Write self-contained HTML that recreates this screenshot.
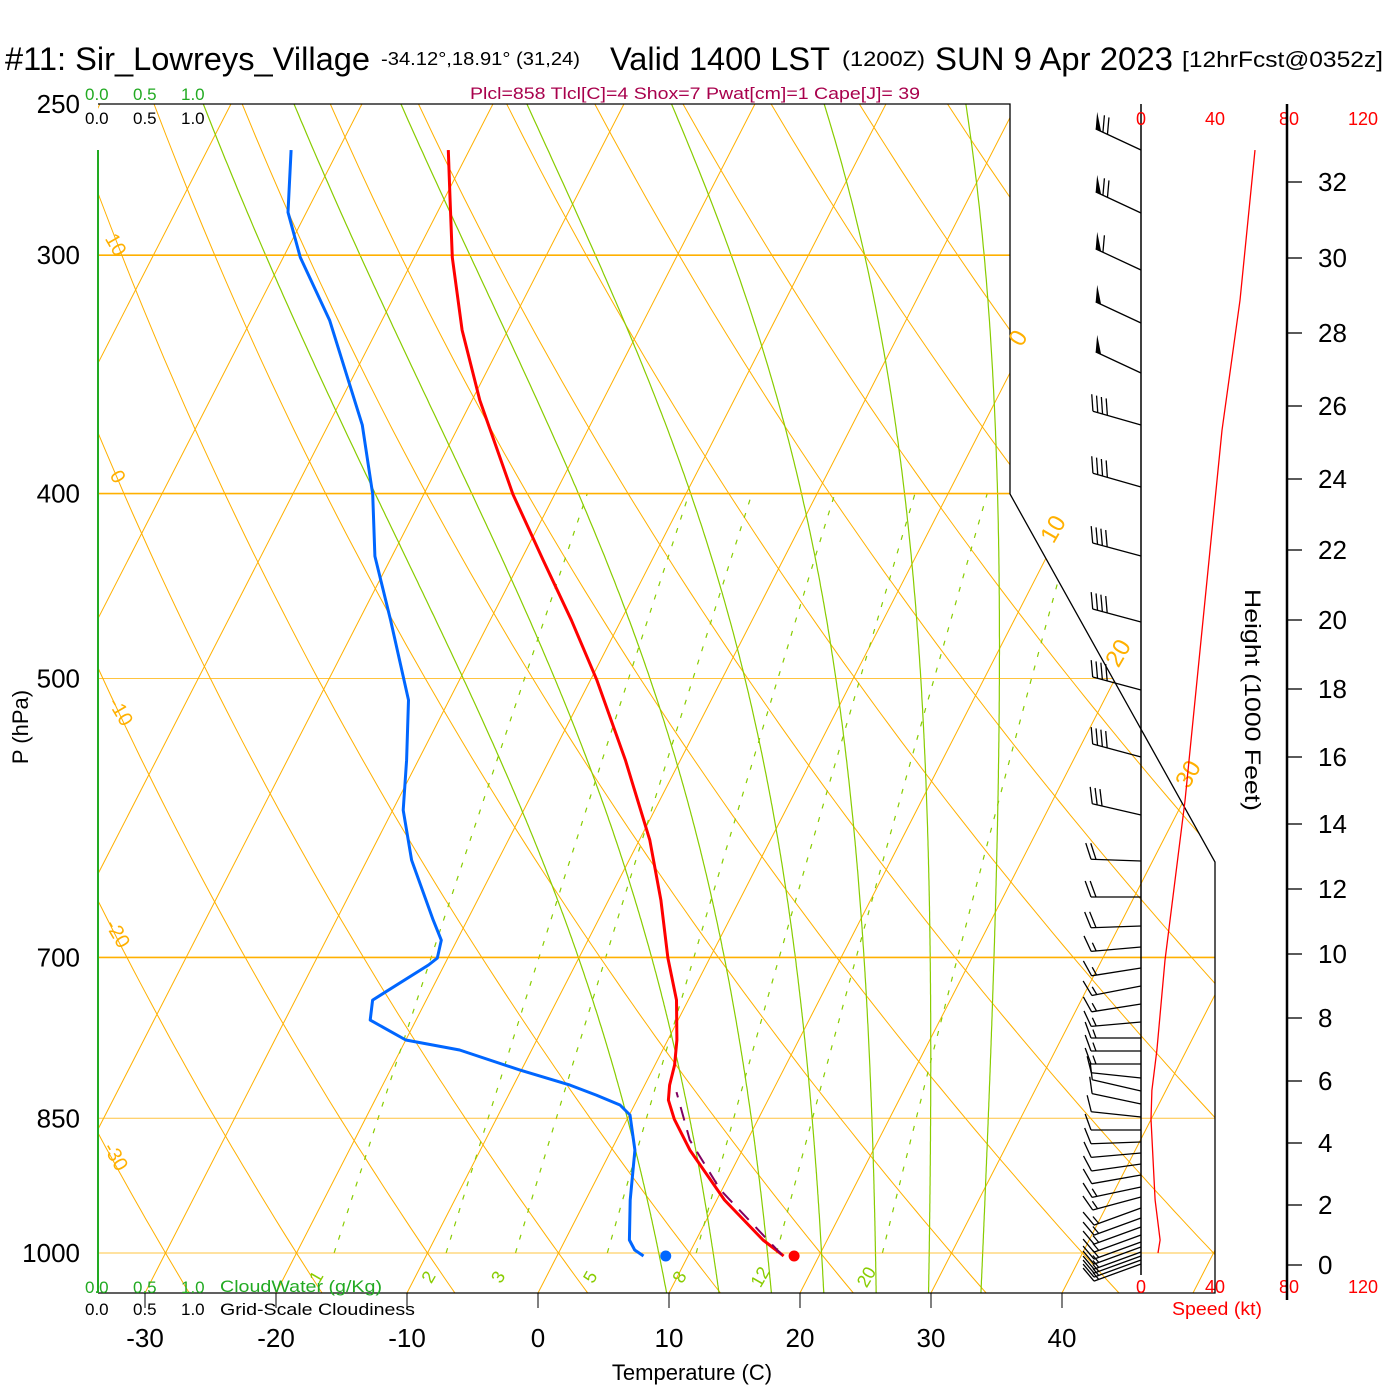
<!DOCTYPE html>
<html><head><meta charset="utf-8">
<style>
html,body{margin:0;padding:0;background:#fff;}
svg{display:block;font-family:"Liberation Sans",Arial,sans-serif;}
</style></head>
<body>
<svg id="chart" xmlns="http://www.w3.org/2000/svg" width="1400" height="1400" viewBox="0 0 1400 1400">
<rect x="0" y="0" width="1400" height="1400" fill="#fff"/>
<defs><clipPath id="plotclip"><polygon points="98,104 1010,104 1010,494 1215,862 1215,1293 98,1293"/></clipPath></defs>
<!-- title -->
<g fill="#000">
<text x="5" y="70" font-size="32" textLength="365" lengthAdjust="spacingAndGlyphs">#11: Sir_Lowreys_Village</text>
<text x="381" y="65" font-size="18" textLength="199" lengthAdjust="spacingAndGlyphs">-34.12°,18.91° (31,24)</text>
<text x="610" y="70" font-size="32" textLength="220" lengthAdjust="spacingAndGlyphs">Valid 1400 LST</text>
<text x="842" y="66" font-size="21" textLength="83" lengthAdjust="spacingAndGlyphs">(1200Z)</text>
<text x="935" y="70" font-size="32" textLength="238" lengthAdjust="spacingAndGlyphs">SUN 9 Apr 2023</text>
<text x="1182" y="67" font-size="22" textLength="201" lengthAdjust="spacingAndGlyphs">[12hrFcst@0352z]</text>
</g>
<text x="470" y="99" font-size="17" fill="#a8004c" textLength="450" lengthAdjust="spacingAndGlyphs">Plcl=858 Tlcl[C]=4 Shox=7 Pwat[cm]=1 Cape[J]= 39</text>
<g id="grid" clip-path="url(#plotclip)"></g>
<g id="fore"></g>
</svg>
<script>
// ---- data ----
const pressureLevels = [250, 300, 400, 500, 700, 850, 1000];
const tempTicks = [-30, -20, -10, 0, 10, 20, 30, 40];
const tempP = [264.3,280.8,300.8,328.4,357.4,400.3,433.5,466,501,551.7,607.6,653.3,700.6,737,773.4,797.1,816.6,831.5,850.9,883.2,938.1,984.4,1000,1003.6];
const tempC = [-51.6,-49.5,-47.1,-43.5,-39.4,-33.2,-28.3,-23.8,-19.5,-14.2,-9.2,-6.0,-3.2,-0.9,0.7,1.5,1.9,2.4,3.6,6.0,10.6,15.1,16.9,17.3];
const dewP = [264.3,284.9,300.8,324.5,368.3,400.3,431.4,466,513.2,551.7,586,622.5,669.2,685.6,700.6,706.5,737,755,773.4,782.8,802,816.6,826.5,836.5,846.6,883.2,938.1,984.4,996.4,1003.6];
const dewC = [-63.6,-61.4,-58.7,-54.0,-47.4,-43.9,-41.3,-37.6,-33.1,-30.9,-29.2,-26.6,-22.6,-21.2,-20.8,-21.2,-24.1,-23.5,-20.0,-15.5,-10.1,-5.7,-3.3,-1.1,0.05,1.8,3.4,4.9,5.7,6.6];
const parcelP = [1002, 926.8, 872.6, 823.5];
const parcelC = [17.1, 9.9, 5.6, 2.7];
const sfcTemp = 18.1, sfcDew = 8.3, sfcP = 1003.6;
const speedP = [264.3,316.8,370.6,455.0,579.5,702.4,782.8,821.8,850.9,938.1,984.4,1000];
const speedKt = [61.6,53.5,43.8,34.6,23.8,13.0,8.6,5.9,5.4,7.6,10.3,9.2];
const barbY = [150,213,270,323,373,425,487,556,622,690,757,815,861,897,926,947,968,986,1004,1022,1038,1051,1064,1078,1091,1104,1117,1130,1142,1153,1164,1175,1187,1197,1208,1218,1227,1235,1242,1247,1252,1256,1260,1264];
const barbDir = [295,295,295,295,295,286,286,285,285,285,285,283,272,270,268,265,261,259,261,265,270,270,270,276,283,282,276,270,268,265,262,260,258,255,250,250,250,250,250,250,250,250,250,250];
const barbKt = [70,70,60,50,50,40,40,40,40,40,40,30,20,20,20,15,15,15,15,15,15,15,15,10,10,10,10,10,10,10,10,10,15,15,15,15,15,15,15,15,15,15,15,15];
const heightTicks = [0,2,4,6,8,10,12,14,16,18,20,22,24,26,28,30,32];
const heightY = [1265,1205,1143,1081,1018,954,889,824,757,689,620,550,479,406,333,258,182];
const mixRatios = [1,2,3,5,8,12,20];
const moistStarts = [9.8,13.8,17.8,21.8,25.8,29.8,33.8];
const dryThetas = [-40,-30,-20,-10,0,10,20,30,40,50,60,70,80,90,100,110,120,130,140,150,160,170];
const isoTemps = [-120,-110,-100,-90,-80,-70,-60,-50,-40,-30,-20,-10,0,10,20,30,40,50];

// ---- axes ----
const NS='http://www.w3.org/2000/svg';
const ORANGE='#ffb000', GREEN='#88cc00';
function yP(p){ return 1253 - Math.log(1000/p)*828.8; }
function pY(y){ return 1000*Math.exp(-(1253-y)/828.8); }
function xT(T,y){ return 538 + 13.1*T + 0.513*(1293-y); }
function spdX(k){ return 1141 + 1.85*k; }
const grid=document.getElementById('grid'), fore=document.getElementById('fore');
function mk(tag,attrs,parent){ const e=document.createElementNS(NS,tag); for(const k in attrs) e.setAttribute(k,attrs[k]); parent.appendChild(e); return e; }
function pathFrom(pts){ return pts.map((q,i)=>(i?'L':'M')+q[0].toFixed(1)+','+q[1].toFixed(1)).join(''); }

// isotherms
isoTemps.forEach(T=>{
  const e=mk('line',{x1:xT(T,1293),y1:1293,x2:xT(T,104),y2:104,stroke:ORANGE,'stroke-width':1},grid);
  
  
});
// dry adiabats
dryThetas.forEach(th=>{
  const pts=[];
  for(let p=1060;p>=240;p-=10){ const T=(th+273.15)*Math.pow(p/1000,0.2857)-273.15; const y=yP(p); pts.push([xT(T,y),y]); }
  const e=mk('path',{d:pathFrom(pts),fill:'none',stroke:ORANGE,'stroke-width':1},grid);
  
  
});
// moist adiabats
function es(Tc){ return 6.112*Math.exp(17.67*Tc/(Tc+243.5)); }
moistStarts.forEach(t0=>{
  let T=t0+273.15, p=1049; const pts=[];
  while(p>=245){
    const y=yP(p); pts.push([xT(T-273.15,y),y]);
    const e=es(T-273.15), rs=0.622*e/(p-e);
    const dTdp=(287*T+2.5e6*rs)/(p*(1004+2.5e6*2.5e6*rs*0.622/(287*T*T)));
    T+=dTdp*(-2); p-=2;
  }
  const el=mk('path',{d:pathFrom(pts),fill:'none',stroke:GREEN,'stroke-width':1.2},grid);
  
  
});
// mixing ratio lines
mixRatios.forEach(w=>{
  const pts=[];
  for(let p=1000;p>=400;p-=10){ const e=w*p/(622+w), L=Math.log(e/6.112), T=243.5*L/(17.67-L); const y=yP(p); pts.push([xT(T,y),y]); }
  const el=mk('path',{d:pathFrom(pts),fill:'none',stroke:GREEN,'stroke-width':1.2,'stroke-dasharray':'5,9'},grid);
  
  
  const e1000=w*1030/(622+w), L=Math.log(e1000/6.112), T=243.5*L/(17.67-L);
  const lx=xT(T,1275)-6, ly=1280;
  const t=mk('text',{x:lx,y:ly,'font-size':18,fill:GREEN,transform:`rotate(-60 ${lx} ${ly})`,'text-anchor':'middle'},fore);
  t.textContent=w;
  
  
});
// pressure lines
pressureLevels.forEach(p=>{
  const y=yP(p), heavy=(p===300||p===400||p===700);
  const e=mk('line',{x1:98,y1:y,x2:1215,y2:y,stroke:ORANGE,'stroke-width':heavy?1.6:1,'stroke-opacity':heavy?1:0.75},grid);
  
  
  const t=mk('text',{x:80,y:y+9,'font-size':26,'text-anchor':'end',fill:'#000'},fore);
  t.textContent=p;
  
  
});
// frame
const fr=mk('path',{d:'M98,104 L1010,104 L1010,494 L1215,862 L1215,1293 L98,1293',fill:'none',stroke:'#000','stroke-width':1.3},fore);


const gl=mk('line',{x1:98,y1:150,x2:98,y2:1293,stroke:'#22aa22','stroke-width':2},fore);


// x ticks + labels
tempTicks.forEach(T=>{
  const x=538+13.1*T;
  const tk=mk('line',{x1:x,y1:1293,x2:x,y2:1308,stroke:'#000','stroke-width':1},fore);
  
  
  const t=mk('text',{x:x,y:1347,'font-size':26,'text-anchor':'middle',fill:'#000'},fore);
  t.textContent=T;
  
  
});
// orange labels: dry adiabats (left) and isotherms (right)
const leftLab=[['10',110,248],['0',112,480],['-10',115,715],['-20',112,937],['-30',110,1160]];
leftLab.forEach(a=>{
  const t=mk('text',{x:a[1],y:a[2],'font-size':20,fill:ORANGE,'text-anchor':'middle',transform:`rotate(60 ${a[1]} ${a[2]})`},fore);
  t.textContent=a[0];
  
  
});
const rightLab=[['0',1025,342],['10',1060,533],['20',1125,657],['30',1195,778]];
rightLab.forEach(a=>{
  const t=mk('text',{x:a[1],y:a[2],'font-size':24,fill:ORANGE,'text-anchor':'middle',transform:`rotate(-60 ${a[1]} ${a[2]})`},fore);
  t.textContent=a[0];
  
  
});
// profiles
function profile(P,T){ return P.map((p,i)=>{const y=yP(p); return [xT(T[i],y),y];}); }
const dl=mk('path',{d:pathFrom(profile(dewP,dewC)),fill:'none',stroke:'#0066ff','stroke-width':3,'stroke-linejoin':'round'},fore);


const tl=mk('path',{d:pathFrom(profile(tempP,tempC)),fill:'none',stroke:'#ff0000','stroke-width':3,'stroke-linejoin':'round'},fore);


const pl=mk('path',{d:pathFrom(profile(parcelP,parcelC)),fill:'none',stroke:'#800060','stroke-width':2,'stroke-dasharray':'14,10'},fore);


const sy=yP(sfcP);
const d1=mk('circle',{cx:xT(sfcTemp,sy),cy:sy,r:5.5,fill:'#ff0000'},fore);


const d2=mk('circle',{cx:xT(sfcDew,sy),cy:sy,r:5.5,fill:'#0066ff'},fore);


// wind staff + speed axis
const ws=mk('line',{x1:1141,y1:104,x2:1141,y2:1275,stroke:'#000','stroke-width':1.5},fore);


const sp=mk('path',{d:pathFrom(speedP.map((p,i)=>[spdX(speedKt[i]),yP(p)])),fill:'none',stroke:'#ff0000','stroke-width':1.3},fore);


// barbs
barbY.forEach((y,i)=>{
  const g=mk('g',{},fore);
  
  
  const a=barbDir[i]*Math.PI/180;
  const ux=Math.sin(a), uy=-Math.cos(a);
  const L=50, tx=1141+ux*L, ty=y+uy*L;
  mk('line',{x1:1141,y1:y,x2:tx,y2:ty,stroke:'#000','stroke-width':1.3},g);
  const th=70*Math.PI/180;
  const bx=ux*Math.cos(th)-uy*Math.sin(th), by=ux*Math.sin(th)+uy*Math.cos(th);
  let k=barbKt[i], d=0;
  while(k>=50){
    const p1x=tx-ux*d, p1y=ty-uy*d, p2x=tx-ux*(d+6), p2y=ty-uy*(d+6);
    mk('polygon',{points:`${p1x},${p1y} ${p2x},${p2y} ${p1x+bx*17},${p1y+by*17}`,fill:'#000'},g);
    k-=50; d+=8;
  }
  while(k>=10){
    const px=tx-ux*d, py=ty-uy*d;
    mk('line',{x1:px,y1:py,x2:px+bx*17,y2:py+by*17,stroke:'#000','stroke-width':1.3},g);
    k-=10; d+=5;
  }
  if(k>=5){
    if(d===0) d=5;
    const px=tx-ux*d, py=ty-uy*d;
    mk('line',{x1:px,y1:py,x2:px+bx*9,y2:py+by*9,stroke:'#000','stroke-width':1.3},g);
  }
});
// speed labels
[0,40,80,120].forEach(k=>{
  [125,1293].forEach(yy=>{
    const t=mk('text',{x:spdX(k),y:yy,'font-size':18,'text-anchor':'middle',fill:'#ff0000'},fore);
    t.textContent=k;
    
    
  });
});
// height axis
const ha=mk('line',{x1:1287,y1:104,x2:1287,y2:1300,stroke:'#000','stroke-width':2.5},fore);


heightTicks.forEach((h,i)=>{
  const y=heightY[i];
  const tk=mk('line',{x1:1287,y1:y,x2:1302,y2:y,stroke:'#000','stroke-width':1.3},fore);
  
  
  const t=mk('text',{x:1318,y:y+9,'font-size':26,fill:'#000'},fore);
  t.textContent=h;
  
  
});
</script>
<svg width="0" height="0" style="position:absolute"></svg>
<script>
(function(){
const fore=document.getElementById('fore');
fore.insertAdjacentHTML('beforeend',`
<text x="1245" y="700" font-size="22" text-anchor="middle" transform="rotate(90 1245 700)" textLength="222" lengthAdjust="spacingAndGlyphs">Height (1000 Feet)</text>
<text x="28" y="727" font-size="22" text-anchor="middle" transform="rotate(-90 28 727)">P (hPa)</text>
<text x="692" y="1380" font-size="22" text-anchor="middle">Temperature (C)</text>
<text x="1172" y="1315" font-size="18" fill="#ff0000" textLength="90" lengthAdjust="spacingAndGlyphs">Speed (kt)</text>
<g fill="#22aa22" font-size="17"><text x="85" y="100">0.0</text><text x="133" y="100">0.5</text><text x="181" y="100">1.0</text></g>
<g fill="#000" font-size="17"><text x="85" y="124">0.0</text><text x="133" y="124">0.5</text><text x="181" y="124">1.0</text></g>
<g fill="#22aa22" font-size="17"><text x="85" y="1293">0.0</text><text x="133" y="1293">0.5</text><text x="181" y="1293">1.0</text><text x="220" y="1292" textLength="162" lengthAdjust="spacingAndGlyphs">CloudWater (g/Kg)</text></g>
<g fill="#000" font-size="17"><text x="85" y="1315">0.0</text><text x="133" y="1315">0.5</text><text x="181" y="1315">1.0</text><text x="220" y="1315" textLength="195" lengthAdjust="spacingAndGlyphs">Grid-Scale Cloudiness</text></g>
`);
})();
</script>
</body></html>
